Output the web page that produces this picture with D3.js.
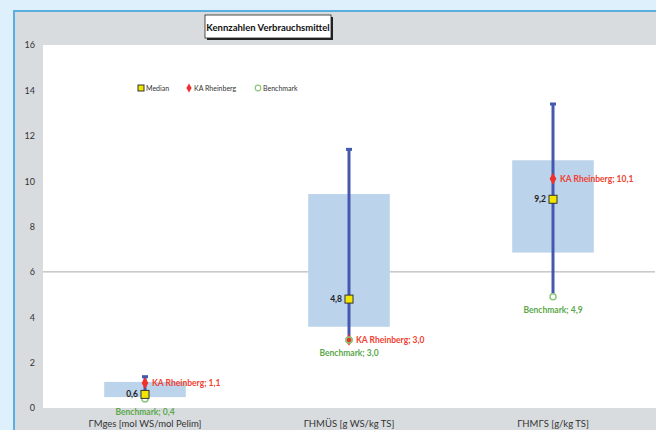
<!DOCTYPE html>
<html>
<head>
<meta charset="utf-8">
<script src="https://cdn.jsdelivr.net/npm/d3@7"></script>
<style>
  body{margin:0;background:#def0fb;}
  svg{display:block;font-family:Lato,"Open Sans",sans-serif;}
</style>
</head>
<body>
<script>
//data
var categories=["ΓMges [mol WS/mol Pelim]","ΓHMÜS [g WS/kg TS]","ΓHMΓS  [g/kg TS]"];
var boxLow=[0.48,3.58,6.85];
var boxHigh=[1.15,9.43,10.92];
var whiskerLow=[0.4,3.0,4.9];
var whiskerHigh=[1.38,11.4,13.4];
var median=[0.6,4.8,9.2];
var rheinberg=[1.1,3.0,10.1];
var benchmark=[0.4,3.0,4.9];
var yTicks=[0,2,4,6,8,10,12,14,16];

var W=656,H=430;
var pLeft=43,pRight=655,pTop=45,pBottom=408;

var svg=d3.select("body").append("svg").attr("width",W).attr("height",H);

//frame
svg.append("rect").attr("x",13).attr("y",10).attr("width",W-13).attr("height",H-10).attr("fill","#d8dcdf");
svg.append("line").attr("x1",14).attr("x2",14).attr("y1",10).attr("y2",H).attr("stroke","#5aaee0").attr("stroke-width",2);
svg.append("line").attr("x1",13).attr("x2",W).attr("y1",11).attr("y2",11).attr("stroke","#5aaee0").attr("stroke-width",2);
svg.append("rect").attr("x",pLeft).attr("y",pTop).attr("width",pRight-pLeft+1).attr("height",pBottom-pTop).attr("fill","#fff");

var x=d3.scaleBand().domain(d3.range(categories.length)).range([pLeft,pRight]);
var y=d3.scaleLinear().domain([0,16]).range([pBottom,pTop]);
var bw=x.bandwidth()*0.4;
var cx=function(i){return x(i)+x.bandwidth()/2;};

//y axis (labels only)
var yAxis=svg.append("g").attr("transform","translate(35,0)")
  .call(d3.axisLeft(y).tickValues(yTicks).tickSize(0).tickPadding(0));
yAxis.select(".domain").remove();
yAxis.selectAll("text").attr("font-size",9).attr("fill","#333").attr("font-family","Lato,sans-serif");

//gridline at 6
svg.append("line").attr("x1",pLeft).attr("x2",pRight).attr("y1",y(6)).attr("y2",y(6)).attr("stroke","#aaa").attr("stroke-width",1);

//x axis labels
var xAxis=svg.append("g").attr("transform","translate(0,"+(pBottom+9)+")")
  .call(d3.axisBottom(x).tickSize(0).tickFormat(function(i){return categories[i];}));
xAxis.select(".domain").remove();
xAxis.selectAll("text").attr("font-size",9.5).attr("fill","#333").attr("font-family","Lato,sans-serif");

var idx=d3.range(categories.length);

//boxes
svg.selectAll(".box").data(idx).enter().append("rect")
  .attr("x",function(i){return cx(i)-bw/2;})
  .attr("y",function(i){return y(boxHigh[i]);})
  .attr("width",bw)
  .attr("height",function(i){return y(boxLow[i])-y(boxHigh[i]);})
  .attr("fill","#bcd3ec");

//whiskers
svg.selectAll(".wh").data(idx).enter().append("line")
  .attr("x1",cx).attr("x2",cx)
  .attr("y1",function(i){return y(whiskerLow[i]);})
  .attr("y2",function(i){return y(whiskerHigh[i]);})
  .attr("stroke","#4459ad").attr("stroke-width",3);
svg.selectAll(".cap").data(idx).enter().append("line")
  .attr("x1",function(i){return cx(i)-3;}).attr("x2",function(i){return cx(i)+3;})
  .attr("y1",function(i){return y(whiskerHigh[i]);})
  .attr("y2",function(i){return y(whiskerHigh[i]);})
  .attr("stroke","#4459ad").attr("stroke-width",3);

var fmt=function(v){return d3.format(".1f")(v).replace(".",",");};
var diamond=d3.symbol().type(d3.symbolDiamond).size(40);

//benchmark
svg.selectAll(".bm").data(idx).enter().append("circle")
  .attr("cx",cx).attr("cy",function(i){return y(benchmark[i]);}).attr("r",3)
  .attr("fill","#fff").attr("stroke","#8cc77d").attr("stroke-width",1.5);
//rheinberg
svg.selectAll(".rh").data(idx).enter().append("path")
  .attr("d",diamond)
  .attr("transform",function(i){return "translate("+cx(i)+","+y(rheinberg[i])+")";})
  .attr("fill","#f0302a");
//draw benchmark again over rheinberg where they coincide
svg.selectAll(".bm2").data(idx.filter(function(i){return benchmark[i]==rheinberg[i];})).enter().append("circle")
  .attr("cx",cx).attr("cy",function(i){return y(benchmark[i]);}).attr("r",3)
  .attr("fill","none").attr("stroke","#8cc77d").attr("stroke-width",1.5);
//median
svg.selectAll(".md").data(idx).enter().append("rect")
  .attr("x",function(i){return cx(i)-4;}).attr("y",function(i){return y(median[i])-4;})
  .attr("width",8).attr("height",8)
  .attr("fill","#f2e600").attr("stroke","#333").attr("stroke-width",1);

//labels
svg.selectAll(".mdl").data(idx).enter().append("text")
  .attr("x",function(i){return cx(i)-7;}).attr("y",function(i){return y(median[i])+3;})
  .attr("text-anchor","end").attr("font-size",8.5).attr("font-weight","bold").attr("fill","#222")
  .text(function(i){return fmt(median[i]);});
svg.selectAll(".rhl").data(idx).enter().append("text")
  .attr("x",function(i){return cx(i)+7;}).attr("y",function(i){return y(rheinberg[i])+3;})
  .attr("font-size",8.5).attr("font-weight","bold").attr("fill","#f0402f")
  .text(function(i){return "KA Rheinberg; "+fmt(rheinberg[i]);});
svg.selectAll(".bml").data(idx).enter().append("text")
  .attr("x",cx).attr("y",function(i){return y(benchmark[i])+16;})
  .attr("text-anchor","middle").attr("font-size",8.5).attr("font-weight","bold").attr("fill","#5aa84a")
  .text(function(i){return "Benchmark; "+fmt(benchmark[i]);});

//legend
var lg=svg.append("g").attr("font-size",7).attr("fill","#333");
lg.append("rect").attr("x",138).attr("y",85).attr("width",6).attr("height",6).attr("fill","#f2e600").attr("stroke","#333");
lg.append("text").attr("x",146).attr("y",91).text("Median");
lg.append("path").attr("d",d3.symbol().type(d3.symbolDiamond).size(24)).attr("transform","translate(189,88)").attr("fill","#f0302a");
lg.append("text").attr("x",194).attr("y",91).text("KA Rheinberg");
lg.append("circle").attr("cx",258).attr("cy",88).attr("r",2.8).attr("fill","#fff").attr("stroke","#8cc77d").attr("stroke-width",1.2);
lg.append("text").attr("x",263).attr("y",91).text("Benchmark");

//title
svg.append("rect").attr("x",207).attr("y",17).attr("width",126).attr("height",23).attr("fill","#222");
svg.append("rect").attr("x",205).attr("y",15).attr("width",126).attr("height",23).attr("fill","#fff").attr("stroke","#222").attr("stroke-width",0.8);
svg.append("text").attr("x",268).attr("y",30.5).attr("text-anchor","middle")
  .attr("font-size",9.5).attr("font-weight","bold").attr("fill","#111").text("Kennzahlen Verbrauchsmittel");
</script>
</body>
</html>
